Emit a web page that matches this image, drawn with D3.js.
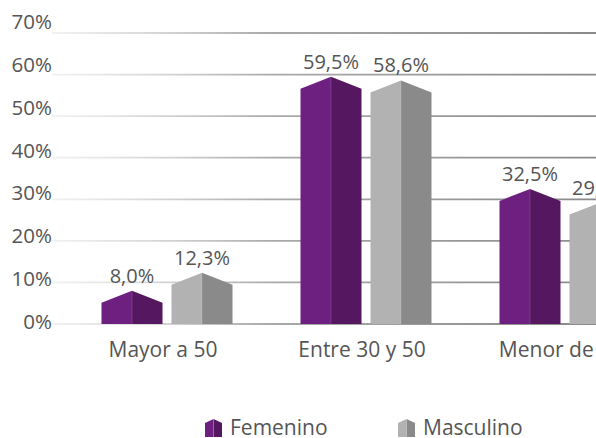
<!DOCTYPE html>
<html lang="es">
<head>
    <meta charset="UTF-8">
    <title>Edad por sexo</title>
    <script src="https://d3js.org/d3.v7.min.js"></script>
    <style>
        body { margin: 0; background: #fff; }
        svg { display: block; }
        text { font-family: "Open Sans", sans-serif; fill: #555555; }
    </style>
</head>
<body>
    <svg id="chart" width="596" height="438"></svg>

    <script>
        // values
        const categories = ["Mayor a 50", "Entre 30 y 50", "Menor de 30"];
        const series = ["Femenino", "Masculino"];
        const femenino = [8.0, 59.5, 32.5];
        const masculino = [12.3, 58.6, 29.2];
        const tickValues = [0, 10, 20, 30, 40, 50, 60, 70];

        const colors = {
            Femenino: { light: "#6d2080", dark: "#55175f" },
            Masculino: { light: "#b2b2b2", dark: "#8a8a8a" }
        };

        const data = categories.map((c, i) => ({
            category: c,
            values: [
                { key: "Femenino", value: femenino[i] },
                { key: "Masculino", value: masculino[i] }
            ]
        }));

        const width = 596, height = 438;
        const svg = d3.select("#chart");
        const defs = svg.append("defs");

        // gridline gradient: fades in from the left
        const grad = defs.append("linearGradient")
            .attr("id", "gridGrad")
            .attr("gradientUnits", "userSpaceOnUse")
            .attr("x1", 52).attr("x2", width).attr("y1", 0).attr("y2", 0);
        grad.append("stop").attr("offset", "0%").attr("stop-color", "#d0d0d0").attr("stop-opacity", 0.3);
        grad.append("stop").attr("offset", "40%").attr("stop-color", "#a0a0a0").attr("stop-opacity", 0.9);
        grad.append("stop").attr("offset", "100%").attr("stop-color", "#8a8a8a").attr("stop-opacity", 1);

        const blur = defs.append("filter").attr("id", "soft")
            .attr("x", "-5%").attr("y", "-300%").attr("width", "110%").attr("height", "700%");
        blur.append("feGaussianBlur").attr("stdDeviation", 1.6);

        const y = d3.scaleLinear().domain([0, 70]).range([324, 33]);
        // labels sit a bit above their lines toward the top (perspective look)
        const yTick = d3.scaleLinear().domain([0, 70]).range([322, 22]);

        const x0 = d3.scaleBand().domain(categories).range([67.5, 664.5]);
        const x1 = d3.scaleBand().domain(series).range([34, 165]).paddingInner(0.1286);

        // gridlines with a soft shadow underneath
        const grid = svg.append("g");
        tickValues.forEach(v => {
            grid.append("line")
                .attr("x1", 52).attr("x2", width)
                .attr("y1", y(v) + 2.5).attr("y2", y(v) + 2.5)
                .attr("stroke", "url(#gridGrad)")
                .attr("stroke-width", 3.5)
                .attr("opacity", 0.6)
                .attr("filter", "url(#soft)");
            grid.append("line")
                .attr("x1", 52).attr("x2", width)
                .attr("y1", y(v)).attr("y2", y(v))
                .attr("stroke", "url(#gridGrad)")
                .attr("stroke-width", 1.8);
        });

        // y axis labels
        svg.append("g")
            .attr("transform", "translate(52,0)")
            .call(d3.axisLeft(yTick).tickValues(tickValues).tickSize(0).tickPadding(0).tickFormat(d => d + "%"))
            .call(g => g.select(".domain").remove())
            .selectAll("text")
            .style("font-family", "'Open Sans', sans-serif")
            .style("font-size", "20.5px")
            .attr("fill", "#555555");

        function prism(g, x, w, top, base, roof, c) {
            const xm = x + w / 2;
            const sh = Math.min(top + roof, base);
            g.append("path")
                .attr("d", `M${x},${base}L${x},${sh}L${xm},${top}L${xm},${base}Z`)
                .attr("fill", c.light);
            g.append("path")
                .attr("d", `M${xm},${base}L${xm},${top}L${x + w},${sh}L${x + w},${base}Z`)
                .attr("fill", c.dark);
            g.append("line")
                .attr("x1", xm).attr("x2", xm).attr("y1", top).attr("y2", base)
                .attr("stroke", "#ffffff").attr("stroke-opacity", 0.15).attr("stroke-width", 1);
        }

        const locale = d3.formatLocale({ decimal: ",", thousands: ".", grouping: [3], currency: ["", ""] });
        const fmt = locale.format(".1f");

        const groups = svg.selectAll(".cat")
            .data(data)
            .join("g")
            .attr("class", "cat")
            .attr("transform", d => `translate(${x0(d.category)},0)`);

        groups.each(function(d) {
            const g = d3.select(this);
            d.values.forEach(v => {
                prism(g, x1(v.key), x1.bandwidth(), y(v.value), y(0), 12, colors[v.key]);
                g.append("text")
                    .attr("x", x1(v.key) + x1.bandwidth() / 2)
                    .attr("y", y(v.value) - 8)
                    .attr("text-anchor", "middle")
                    .style("font-size", "20px")
                    .text(fmt(v.value) + "%");
            });
            g.append("text")
                .attr("x", x0.bandwidth() / 2 - 4)
                .attr("y", 357)
                .attr("text-anchor", "middle")
                .style("font-size", "21px")
                .text(d.category);
        });

        // legend
        const legendX = d3.scaleOrdinal().domain(series).range([205, 398]);
        const legend = svg.append("g");
        series.forEach(s => {
            const lg = legend.append("g");
            prism(lg, legendX(s), 17, 419, 437, 4, colors[s]);
            lg.append("text")
                .attr("x", legendX(s) + 25)
                .attr("y", 435)
                .style("font-size", "21px")
                .text(s);
        });
    </script>
</body>
</html>
